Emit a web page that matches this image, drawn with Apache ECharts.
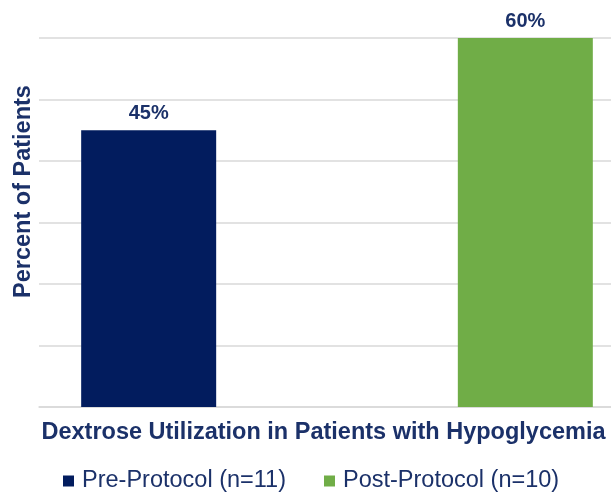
<!DOCTYPE html>
<html>
<head>
<meta charset="utf-8">
<script src="https://cdn.jsdelivr.net/npm/echarts@6/dist/echarts.min.js"></script>
<style>
  html, body { margin: 0; padding: 0; background: #fff; }
  #chart { width: 611px; height: 496px; }
</style>
</head>
<body>
<div id="chart"></div>
<script>
// Dextrose utilization, pre vs post protocol
const categories = ['Dextrose Utilization in Patients with Hypoglycemia'];
const seriesNames = ['Pre-Protocol (n=11)', 'Post-Protocol (n=10)'];
const preValues = [45];
const postValues = [60];
const yTicks = [0, 10, 20, 30, 40, 50, 60];

const textColor = '#1b3169';
const fontFamily = 'Liberation Sans, Arial, sans-serif';

const chart = echarts.init(document.getElementById('chart'), null, { renderer: 'canvas' });

const labelStyle = {
  show: true,
  position: 'top',
  distance: 7,
  formatter: p => p.value + '%',
  color: textColor,
  fontWeight: 'bold',
  fontSize: 20,
  fontFamily
};

chart.setOption({
  animation: false,
  // plot area runs past the right edge of the canvas
  grid: { left: 39, width: 596, top: 38, bottom: 89, containLabel: false, outerBoundsMode: 'none' },
  legend: {
    top: 469,
    left: 63,
    padding: 0,
    itemWidth: 11,
    itemHeight: 11,
    itemGap: 38,
    icon: 'rect',
    textStyle: { color: textColor, fontSize: 23.5, fontFamily, padding: [0, 0, 0, 3] },
    data: seriesNames
  },
  xAxis: {
    type: 'category',
    data: categories,
    axisLabel: { show: false },
    axisTick: { show: false },
    axisLine: { lineStyle: { color: '#d9d9d9', width: 1.5 } },
    name: categories[0],
    nameLocation: 'middle',
    nameGap: 14,
    nameTextStyle: { color: textColor, fontWeight: 'bold', fontSize: 23.5, fontFamily, padding: [0, 27, 0, 0] }
  },
  yAxis: {
    type: 'value',
    min: yTicks[0],
    max: yTicks[yTicks.length - 1],
    interval: 10,
    axisLabel: { show: false },
    axisTick: { show: false },
    axisLine: { show: false },
    splitLine: { lineStyle: { color: '#d9d9d9', width: 1.5 } },
    name: 'Percent of Patients',
    nameLocation: 'middle',
    nameGap: 3,
    nameTextStyle: { color: textColor, fontWeight: 'bold', fontSize: 23.5, fontFamily, padding: [0, 0, 0, 62] }
  },
  series: [
    {
      name: seriesNames[0],
      type: 'bar',
      data: preValues,
      barWidth: 135,
      barGap: '179%',
      itemStyle: { color: '#021c5e' },
      label: labelStyle
    },
    {
      name: seriesNames[1],
      type: 'bar',
      data: postValues,
      barWidth: 135,
      itemStyle: { color: '#70ad47' },
      label: labelStyle
    }
  ]
});
</script>
</body>
</html>
